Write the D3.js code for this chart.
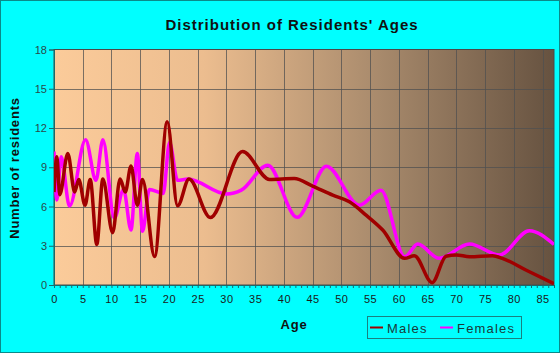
<!DOCTYPE html>
<html><head><meta charset="utf-8">
<script src="https://cdn.jsdelivr.net/npm/d3@7"></script>
<style>html,body{margin:0;padding:0;background:#00ffff;}svg{display:block;}</style>
</head><body>
<script>
const title = "Distribution of Residents' Ages";
const xLabel = "Age";
const yLabel = "Number of residents";
const seriesNames = ["Males", "Females"];
const xTicks = [0,5,10,15,20,25,30,35,40,45,50,55,60,65,70,75,80,85];
const yTicks = [0,3,6,9,12,15,18];

const maleAges = [0,0.5,1.0,2.4,3.6,4.3,5.4,6.3,7.45,8.5,10.2,11.5,12.4,13.4,14.5,15.4,17.5,19.7,21.5,23.5,27.2,32.8,37.5,41.8,45,48.5,51.4,54.3,57.2,61,62.7,65.8,68.2,70,72.3,76.3,78,82.1,87];
const maleCounts = [7.1,9.8,6.9,10.05,7.1,8.07,6.1,8.07,3.1,8.1,4.0,8.1,7.1,9.1,6.1,8.07,2.17,12.47,6.05,8.1,5.15,10.2,8.07,8.14,7.56,6.87,6.36,5.34,4.2,2.04,2.24,0.18,2.2,2.3,2.16,2.24,2.04,1.15,0.1];

const femaleAges = [0,0.5,1.25,2.7,5.5,7.3,8.5,10.5,12.1,13.4,14.5,15.4,16.6,19.0,20.1,21.5,23.3,30,32.6,37.2,42.3,47.4,53.1,56.9,61,63.3,67,72.3,77.5,82.7,87];
const femaleCounts = [10.2,6.5,9.8,6.03,11.1,8.0,11.1,5.1,7.3,4.2,10.05,4.1,7.3,7.0,10.9,8.0,8.1,6.95,7.25,9.16,5.17,9.08,6.1,7.25,2.16,3.13,2.04,3.13,2.3,4.15,3.1];

const W = 560, H = 353;
const m = {left:54, right:6, top:49.5, bottom:68};
const svg = d3.select("body").append("svg").attr("width", W).attr("height", H);

svg.append("rect").attr("x",0.5).attr("y",0.5).attr("width",W-1).attr("height",H-1)
  .attr("fill","#00ffff").attr("stroke","#0a8a8a").attr("stroke-width",1);

const x = d3.scaleLinear().domain([0,87]).range([m.left, W - m.right]);
const y = d3.scaleLinear().domain([0,18]).range([H - m.bottom, m.top]);

const defs = svg.append("defs");
const grad = defs.append("linearGradient").attr("id","bg").attr("x1","0").attr("x2","1").attr("y1","0").attr("y2","0");
[[0,"#fbcb9a"],[0.3,"#ecbd8f"],[0.65,"#a88a6c"],[1,"#665240"]].forEach(([o,c]) =>
  grad.append("stop").attr("offset", o).attr("stop-color", c));

svg.append("rect").attr("x", x(0)).attr("y", y(18)).attr("width", x(87)-x(0)).attr("height", y(0)-y(18))
  .attr("fill","url(#bg)");

// grid
const g = svg.append("g");
g.selectAll(".vg").data(xTicks.filter(d=>d>0)).join("line")
  .attr("x1", d=>Math.round(x(d))+0.5).attr("x2", d=>Math.round(x(d))+0.5)
  .attr("y1", y(18)).attr("y2", y(0)).attr("stroke","#505050").attr("stroke-opacity",0.75);
g.selectAll(".hg").data(yTicks.filter(d=>d>0 && d<18)).join("line")
  .attr("y1", d=>Math.round(y(d))+0.5).attr("y2", d=>Math.round(y(d))+0.5)
  .attr("x1", x(0)).attr("x2", x(87)).attr("stroke","#505050").attr("stroke-opacity",0.75);

// plot border
svg.append("rect").attr("x", x(0)).attr("y", y(18)).attr("width", x(87)-x(0)).attr("height", y(0)-y(18))
  .attr("fill","none").attr("stroke","#4a4a4a").attr("stroke-width",1);

// axes
const xAxis = d3.axisBottom(x).tickValues(d3.range(0,88,1)).tickSize(3).tickFormat("");
svg.append("g").attr("transform",`translate(0,${y(0)})`).call(xAxis)
  .call(s=>{s.select(".domain").attr("stroke","#1a6a6a");s.selectAll("line").attr("stroke","#1a6a6a");});
const xLab = d3.axisBottom(x).tickValues(xTicks).tickSize(0).tickPadding(10);
svg.append("g").attr("transform",`translate(0,${y(0)})`).call(xLab)
  .call(s=>{s.select(".domain").remove();s.selectAll("text").attr("font-family","Arial, Liberation Sans, sans-serif")
    .attr("font-size",11).attr("fill","#1a1a1a").attr("letter-spacing","0.5px");});

const yAxis = d3.axisLeft(y).tickValues(yTicks).tickSize(5).tickPadding(2);
svg.append("g").attr("transform",`translate(${x(0)},0)`).call(yAxis)
  .call(s=>{s.select(".domain").attr("stroke","#1a6a6a");s.selectAll("line").attr("stroke","#1a6a6a");
    s.selectAll("text").attr("font-family","Arial, Liberation Sans, sans-serif").attr("font-size",11).attr("fill","#2a4a4a");});

// lines
const clip = defs.append("clipPath").attr("id","clip").append("rect")
  .attr("x", x(0)).attr("y", y(18)).attr("width", x(87)-x(0)).attr("height", y(0)-y(18)+2);
const line = d3.line().x(d=>x(d[0])).y(d=>y(d[1])).curve(d3.curveMonotoneX);
const femaleData = femaleAges.map((a,i)=>[a,femaleCounts[i]]);
const maleData = maleAges.map((a,i)=>[a,maleCounts[i]]);
svg.append("path").datum(femaleData).attr("d",line).attr("fill","none").attr("stroke","#ff00ff")
  .attr("stroke-width",3.5).attr("clip-path","url(#clip)").attr("stroke-linejoin","round");
svg.append("path").datum(maleData).attr("d",line).attr("fill","none").attr("stroke","#a00000")
  .attr("stroke-width",3.5).attr("clip-path","url(#clip)").attr("stroke-linejoin","round");

// titles
svg.append("text").attr("x",292).attr("y",30).attr("text-anchor","middle")
  .attr("font-family","Arial, Liberation Sans, sans-serif").attr("font-weight","bold").attr("font-size",15)
  .attr("letter-spacing","1px").attr("fill","#111").text(title);
svg.append("text").attr("x",294).attr("y",329).attr("text-anchor","middle")
  .attr("font-family","Arial, Liberation Sans, sans-serif").attr("font-weight","bold").attr("font-size",13)
  .attr("letter-spacing","0.8px").attr("fill","#111").text(xLabel);
svg.append("text").attr("transform","translate(19,168) rotate(-90)").attr("text-anchor","middle")
  .attr("font-family","Arial, Liberation Sans, sans-serif").attr("font-weight","bold").attr("font-size",13)
  .attr("letter-spacing","0.8px").attr("fill","#111").text(yLabel);

// legend
const lg = svg.append("g");
lg.append("rect").attr("x",367.5).attr("y",316.5).attr("width",154).attr("height",22)
  .attr("fill","none").attr("stroke","#1a8080").attr("stroke-width",1);
const colors = ["#a00000","#ff00ff"];
const lx = [370, 440];
seriesNames.forEach((n,i)=>{
  lg.append("line").attr("x1",lx[i]).attr("x2",lx[i]+13).attr("y1",327.5).attr("y2",327.5)
    .attr("stroke",colors[i]).attr("stroke-width",2);
  lg.append("text").attr("x",lx[i]+17).attr("y",332.5).attr("font-family","Arial, Liberation Sans, sans-serif")
    .attr("font-size",13).attr("letter-spacing","1.2px").attr("fill","#1a3a3a").text(n);
});
</script>
</body></html>
